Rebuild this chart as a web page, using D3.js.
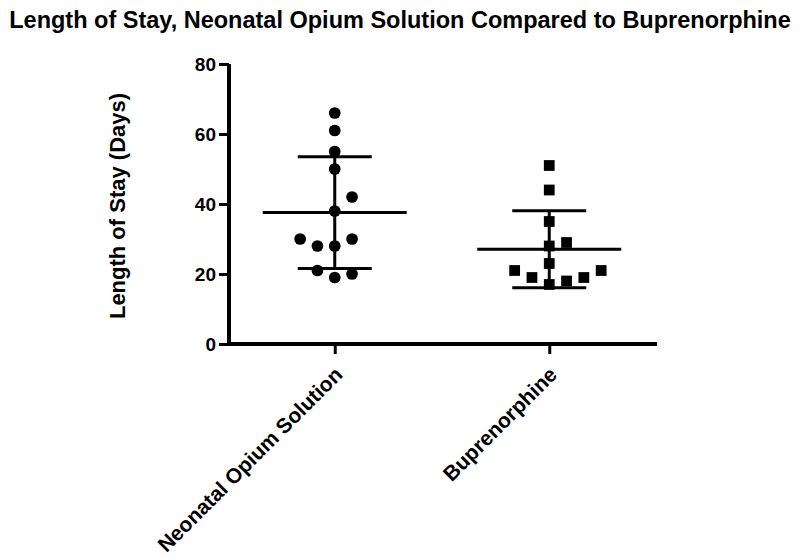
<!DOCTYPE html>
<html>
<head>
<meta charset="utf-8">
<script src="https://cdn.jsdelivr.net/npm/d3@7"></script>
<style>
  html, body { margin: 0; padding: 0; background: #fff; }
  svg { display: block; }
  text { font-family: "Liberation Sans", Arial, sans-serif; font-weight: bold; fill: #000; }
</style>
</head>
<body>
<svg id="chart" width="800" height="559"></svg>
<script>
// ---- data ----
const categories = ["Neonatal Opium Solution", "Buprenorphine"];
const nosValues = [66, 61, 55, 50, 42, 38, 30, 28, 28, 30, 21, 19, 20];
const nosSlots  = [0, 0, 0, 0, 1, 0, -2, -1, 0, 1, -1, 0, 1];
const bupValues = [51, 44, 35, 28, 29, 23, 21, 19, 18, 17, 19, 21];
const bupSlots  = [0, 0, 0, 0, 1, 0, -2, -1, 1, 0, 2, 3];
const yTicks = [0, 20, 40, 60, 80];
const chartTitle = "Length of Stay, Neonatal Opium Solution Compared to Buprenorphine";
const yTitle = "Length of Stay (Days)";

const groups = [
  { name: categories[0], values: nosValues, slots: nosSlots, symbol: d3.symbolCircle },
  { name: categories[1], values: bupValues, slots: bupSlots, symbol: d3.symbolSquare }
];

// ---- layout ----
const svg = d3.select("#chart");
const mLeft = 229, mRight = 657, mTop = 64, mBottom = 344;
const font = "'Liberation Sans', Arial, sans-serif";

const x = d3.scalePoint().domain(categories).range([227.5, 656.5]).padding(0.5);
const y = d3.scaleLinear().domain([0, 80]).range([mBottom, mTop]);
const slotX = d3.scaleLinear().domain([0, 1]).range([0, 17.3]);

// title
svg.append("text")
  .attr("x", 400).attr("y", 28)
  .attr("text-anchor", "middle")
  .style("font-size", "23.5px")
  .text(chartTitle);

// y axis title
svg.append("text")
  .attr("transform", `translate(125,206) rotate(-90)`)
  .attr("text-anchor", "middle")
  .style("font-size", "22px")
  .text(yTitle);

// y axis
const yAxis = svg.append("g")
  .attr("transform", `translate(${mLeft},0)`)
  .call(d3.axisLeft(y).tickValues(yTicks).tickSize(10).tickSizeOuter(0).tickPadding(3));
yAxis.select(".domain").attr("stroke", "#000").attr("stroke-width", 4)
  .attr("d", `M0,${mTop}V${mBottom + 2}`);
yAxis.selectAll(".tick line").attr("stroke", "#000").attr("stroke-width", 3);
yAxis.selectAll(".tick text").style("font-size", "19px").style("font-family", font).style("font-weight", "bold");

// x axis
const xAxis = svg.append("g")
  .attr("transform", `translate(0,${mBottom})`)
  .call(d3.axisBottom(x).tickSize(10).tickSizeOuter(0));
xAxis.select(".domain").attr("stroke", "#000").attr("stroke-width", 4)
  .attr("d", `M${mLeft - 2},0H${mRight}`);
xAxis.selectAll(".tick line").attr("stroke", "#000").attr("stroke-width", 3);
xAxis.selectAll(".tick text")
  .attr("text-anchor", "end")
  .attr("dy", null)
  .attr("y", null)
  .attr("transform", "translate(8.5,32) rotate(-45)")
  .style("font-size", "21px")
  .style("font-family", font)
  .style("font-weight", "bold");

// mean and SD bars
const meanHalf = 72, sdHalf = 37;
groups.forEach(g => {
  const cx = x(g.name);
  const m = d3.mean(g.values);
  const sd = d3.deviation(g.values);
  const gg = svg.append("g").attr("stroke", "#000").attr("stroke-width", 3);
  gg.append("line").attr("x1", cx).attr("x2", cx).attr("y1", y(m + sd)).attr("y2", y(m - sd));
  gg.append("line").attr("x1", cx - meanHalf).attr("x2", cx + meanHalf).attr("y1", y(m)).attr("y2", y(m));
  gg.append("line").attr("x1", cx - sdHalf).attr("x2", cx + sdHalf).attr("y1", y(m + sd)).attr("y2", y(m + sd));
  gg.append("line").attr("x1", cx - sdHalf).attr("x2", cx + sdHalf).attr("y1", y(m - sd)).attr("y2", y(m - sd));

  svg.append("g").selectAll("path")
    .data(g.values.map((v, i) => ({ v, s: g.slots[i] })))
    .join("path")
    .attr("d", d3.symbol().type(g.symbol).size(g.symbol === d3.symbolCircle ? 108 : 116))
    .attr("transform", d => `translate(${cx + slotX(d.s)},${y(d.v)})`)
    .attr("fill", "#000");
});
</script>
</body>
</html>
